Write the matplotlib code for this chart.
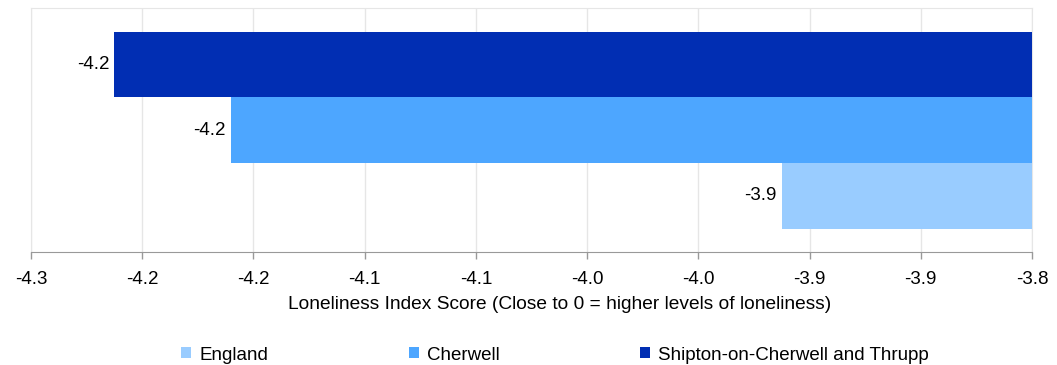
import numpy as np
import matplotlib.pyplot as plt
from matplotlib.ticker import FixedLocator, FuncFormatter

plt.rcParams['font.family'] = ['Liberation Sans', 'DejaVu Sans']

# data, top bar first
areas = ["Shipton-on-Cherwell and Thrupp", "Cherwell", "England"]
scores = [-4.240, -4.184, -3.920]
colours = ["#012EB3", "#4DA6FF", "#99CCFF"]
legend_order = ["England", "Cherwell", "Shipton-on-Cherwell and Thrupp"]

xmin, xmax = -4.28, -3.8
n_ticks = 10
fs = 13.5

fig = plt.figure(figsize=(10.57, 3.65), dpi=100)
ax = fig.add_axes([31 / 1057, 1 - 252.3 / 365, 1001 / 1057, 244.3 / 365])

bh = 0.269
ys = [bh, 0, -bh]
bars = []
for y, v, c, name in zip(ys, scores, colours, areas):
    b = ax.barh(y, v - xmax, left=xmax, height=bh, color=c, label=name, zorder=3)
    bars.append(b)
    ax.text(v - 0.0025, y, f"{v:.1f}", ha="right", va="center", fontsize=fs, color="#000000", zorder=4)

ax.set_xlim(xmin, xmax)
ax.set_ylim(-0.5, 0.5)
ticks = np.linspace(xmin, xmax, n_ticks)
ax.xaxis.set_major_locator(FixedLocator(ticks))
ax.xaxis.set_major_formatter(FuncFormatter(lambda x, p: f"{x:.1f}"))
ax.set_yticks([])
ax.grid(axis="x", color="#e6e6e6", linewidth=1, zorder=0)
ax.tick_params(axis="x", length=5, width=1, color="#999999", labelsize=fs, pad=8.5, labelcolor="#000000")
for s in ["top", "left", "right"]:
    ax.spines[s].set_color("#e6e6e6")
ax.spines["bottom"].set_color("#999999")
ax.set_xlabel("Loneliness Index Score (Close to 0 = higher levels of loneliness)", fontsize=13.8)
ax.xaxis.set_label_coords((560 - 31) / 1001, -0.215)
ax.xaxis.label.set_va("center")

handles = {name: b for name, b in zip(areas, bars)}
fig.legend([handles[n] for n in legend_order], legend_order, loc="center", bbox_to_anchor=(555 / 1057, 1 - 355 / 365),
           ncol=3, frameon=False, fontsize=fs, handlelength=0.53, handleheight=0.53,
           handletextpad=0.43, columnspacing=7.5)

fig.savefig("out.png", dpi=100)
